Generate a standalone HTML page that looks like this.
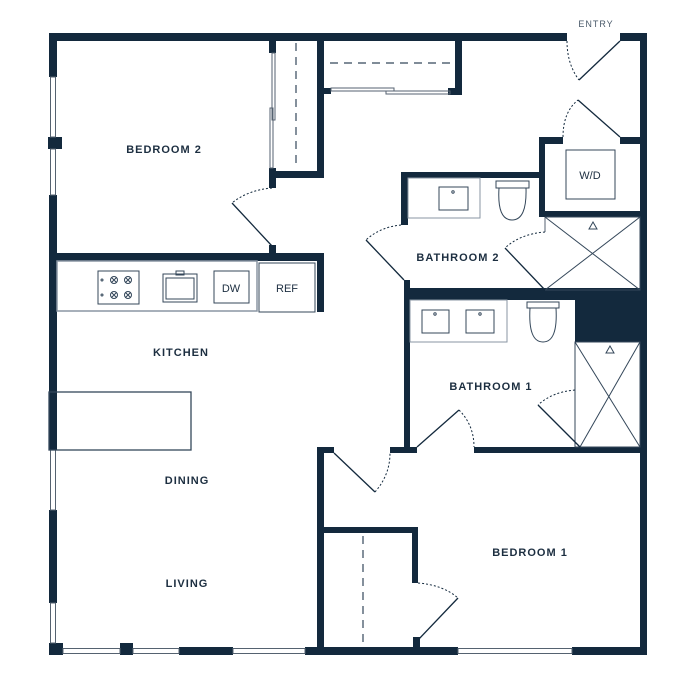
<!DOCTYPE html>
<html><head><meta charset="utf-8"><style>
html,body{margin:0;padding:0;background:#fff;}
svg{display:block;}
text{font-family:"Liberation Sans",sans-serif;fill:#1c2e40;font-weight:bold;letter-spacing:1px;}
</style></head><body>
<svg width="684" height="700" viewBox="0 0 684 700" xmlns="http://www.w3.org/2000/svg">
<g fill="#13293d">
<rect x="49" y="33" width="518" height="8"/>
<rect x="620" y="33" width="27" height="8"/>
<rect x="640" y="33" width="7" height="622"/>
<rect x="49" y="33" width="8" height="44"/>
<rect x="48" y="137" width="14" height="12"/>
<rect x="49" y="195" width="8" height="255"/>
<rect x="49" y="510" width="8" height="93"/>
<rect x="49" y="643" width="14" height="12"/>
<rect x="120" y="643" width="13" height="12"/>
<rect x="179" y="647" width="54" height="8"/>
<rect x="305" y="647" width="153" height="8"/>
<rect x="572" y="647" width="75" height="8"/>
<rect x="269" y="41" width="7" height="12"/>
<rect x="269" y="168" width="7" height="20"/>
<rect x="269" y="171" width="55" height="7"/>
<rect x="317" y="41" width="7" height="137"/>
<rect x="269" y="245" width="7" height="10"/>
<rect x="49" y="253" width="275" height="8"/>
<rect x="317" y="253" width="7" height="59"/>
<rect x="455" y="41" width="7" height="54"/>
<rect x="448" y="88" width="14" height="7"/>
<rect x="324" y="88" width="7" height="6"/>
<rect x="539" y="137" width="6" height="80"/>
<rect x="539" y="137" width="24" height="7"/>
<rect x="620" y="137" width="20" height="7"/>
<rect x="539" y="211" width="101" height="6"/>
<rect x="401" y="172" width="144" height="6"/>
<rect x="401" y="172" width="7" height="53"/>
<rect x="404" y="280" width="6" height="20"/>
<rect x="404" y="288" width="243" height="12"/>
<rect x="575" y="290" width="72" height="52"/>
<rect x="404" y="290" width="6" height="163"/>
<rect x="390" y="447" width="27" height="6"/>
<rect x="474" y="447" width="173" height="6"/>
<rect x="317" y="447" width="7" height="208"/>
<rect x="317" y="447" width="17" height="6"/>
<rect x="324" y="527" width="94" height="6"/>
<rect x="412" y="527" width="6" height="56"/>
<rect x="413" y="637" width="7" height="12"/>
</g>
<g fill="none" stroke="#556270" stroke-width="1">
<rect x="50.5" y="77" width="5" height="60"/>
<rect x="50.5" y="149" width="5" height="46"/>
<rect x="50.5" y="450" width="5" height="60"/>
<rect x="50.5" y="603" width="5" height="40"/>
<rect x="63" y="648.5" width="57" height="5"/>
<rect x="133" y="648.5" width="46" height="5"/>
<rect x="233" y="648.5" width="72" height="5"/>
<rect x="458" y="648.5" width="114" height="5"/>
<rect x="272" y="53" width="3" height="67"/>
<rect x="270" y="108" width="3" height="60"/>
<rect x="331" y="88" width="63" height="3"/>
<rect x="386" y="91" width="64" height="3"/>
<rect x="57" y="261" width="200" height="50" stroke="#8a96a3" stroke-width="1.5"/>
<rect x="259" y="263" width="56" height="49" stroke="#34475a"/>
<rect x="98" y="271" width="41" height="33" stroke="#34475a"/>
<rect x="163" y="274" width="34" height="28" stroke="#34475a"/>
<rect x="166" y="278" width="28" height="21" stroke="#34475a"/>
<rect x="176" y="271" width="8" height="4" stroke="#34475a"/>
<rect x="214" y="271" width="35" height="32" stroke="#34475a"/>
<rect x="49" y="392" width="142" height="58" stroke="#34475a" stroke-width="1.3"/>
<rect x="408" y="178" width="72" height="40" stroke="#8a96a3"/>
<rect x="439" y="187" width="29" height="23" stroke="#34475a"/>
<rect x="496" y="181" width="33" height="7" stroke="#34475a"/>
<path d="M499 188 Q497 220 512 220 Q527 220 526 188" stroke="#34475a"/>
<line x1="545" y1="217" x2="545" y2="232"/>
<path d="M545 217 H640 V290 H545 M545 217 L640 290 M640 217 L545 290" stroke="#34475a"/>
<path d="M593 222 L589 229 H597 Z" stroke="#34475a"/>
<rect x="566" y="150" width="49" height="49" stroke="#34475a"/>
<rect x="410" y="300" width="97" height="42" stroke="#8a96a3"/>
<rect x="422" y="310" width="27" height="23" stroke="#34475a"/>
<rect x="466" y="310" width="28" height="23" stroke="#34475a"/>
<rect x="527" y="302" width="32" height="6" stroke="#34475a"/>
<path d="M530 308 Q528 342 543 342 Q558 342 556 308" stroke="#34475a"/>
<line x1="575" y1="342" x2="575" y2="390"/>
<path d="M575 342 H640 V447 H575 Z M575 342 L640 447 M640 342 L580 447" stroke="#34475a"/>
<path d="M610 346 L606 353 H614 Z" stroke="#34475a"/>
</g>
<g fill="none" stroke="#34475a" stroke-width="1">
<circle cx="114" cy="280" r="3.5"/><circle cx="128" cy="280" r="3.5"/>
<circle cx="114" cy="295" r="3.5"/><circle cx="128" cy="295" r="3.5"/>
<path d="M111.5 277.5l5 5m0-5l-5 5M125.5 277.5l5 5m0-5l-5 5M111.5 292.5l5 5m0-5l-5 5M125.5 292.5l5 5m0-5l-5 5"/>
<circle cx="102" cy="280" r="1"/><circle cx="102" cy="295" r="1"/>
<circle cx="453" cy="192" r="1.2"/><circle cx="435" cy="314" r="1.2"/><circle cx="480" cy="314" r="1.2"/>
</g>
<g stroke="#34475a" stroke-width="1.2" stroke-dasharray="8,6" fill="none">
<line x1="296" y1="43" x2="296" y2="168"/>
<line x1="330" y1="63" x2="452" y2="63"/>
<line x1="363" y1="536" x2="363" y2="647"/>
</g>
<g stroke="#13293d" stroke-width="1.3" fill="none">
<line x1="232" y1="203" x2="272" y2="246"/>
<line x1="620" y1="41" x2="579" y2="80"/>
<line x1="578" y1="100" x2="620" y2="137"/>
<line x1="366" y1="240" x2="404" y2="280"/>
<line x1="505" y1="248" x2="545" y2="290"/>
<line x1="538" y1="405" x2="580" y2="447"/>
<line x1="417" y1="447" x2="459" y2="410"/>
<line x1="334" y1="453" x2="375" y2="492"/>
<line x1="458" y1="598" x2="418" y2="640"/>
</g>
<g stroke="#13293d" stroke-width="1" stroke-dasharray="2,2" fill="none">
<path d="M272 188 Q248 190 232 203"/>
<path d="M567 41 Q567 64 579 80"/>
<path d="M563 137 Q563 112 578 100"/>
<path d="M401 225 Q380 227 366 240"/>
<path d="M545 232 Q520 234 505 248"/>
<path d="M575 390 Q552 392 538 405"/>
<path d="M459 410 Q474 425 474 447"/>
<path d="M375 492 Q390 475 390 453"/>
<path d="M418 583 Q443 585 458 598"/>
</g>
<text x="164" y="153" font-size="11" text-anchor="middle">BEDROOM 2</text>
<text x="458" y="261" font-size="11" text-anchor="middle">BATHROOM 2</text>
<text x="491" y="390" font-size="11" text-anchor="middle">BATHROOM 1</text>
<text x="181" y="356" font-size="11" text-anchor="middle">KITCHEN</text>
<text x="187" y="484" font-size="11" text-anchor="middle">DINING</text>
<text x="187" y="587" font-size="11" text-anchor="middle">LIVING</text>
<text x="530" y="556" font-size="11" text-anchor="middle">BEDROOM 1</text>
<text x="596" y="27" font-size="9" text-anchor="middle" style="font-weight:normal;fill:#4a5a6a">ENTRY</text>
<text x="590" y="179" font-size="11" text-anchor="middle" style="font-weight:normal;letter-spacing:0">W/D</text>
<text x="231" y="292" font-size="11" text-anchor="middle" style="font-weight:normal;letter-spacing:0">DW</text>
<text x="287" y="292" font-size="11" text-anchor="middle" style="font-weight:normal;letter-spacing:0">REF</text>
</svg>
</body></html>
